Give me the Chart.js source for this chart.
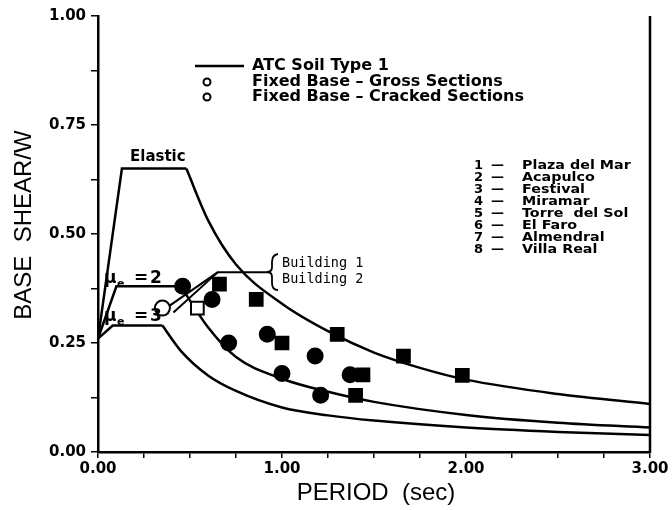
<!DOCTYPE html>
<html>
<head>
<meta charset="utf-8">
<script src="https://cdn.jsdelivr.net/npm/chart.js@4.4.0/dist/chart.umd.min.js"></script>
<style>
    html, body { margin: 0; padding: 0; background: #fff; }
</style>
</head>
<body>
<canvas id="spectrumChart" width="672" height="510"></canvas>
<script>
// ATC soil type 1 design spectra (period in sec, base shear / W)
// index 2 of each spectrum is the end of the plateau
const elasticPeriod = [0, 0.13, 0.48, 0.6, 0.75, 1.0, 1.25, 1.5, 1.75, 2.0, 2.5, 3.0];
const elasticShear = [0.26, 0.65, 0.65, 0.53, 0.43, 0.34, 0.277, 0.228, 0.193, 0.166, 0.133, 0.11];

const mu2Period = [0, 0.10, 0.45, 0.6, 0.75, 1.0, 1.25, 1.5, 2.0, 2.5, 3.0];
const mu2Shear = [0.26, 0.38, 0.38, 0.285, 0.218, 0.168, 0.138, 0.115, 0.085, 0.067, 0.056];

const mu3Period = [0, 0.08, 0.35, 0.45, 0.6, 0.75, 1.0, 1.25, 1.5, 2.0, 2.5, 3.0];
const mu3Shear = [0.26, 0.29, 0.29, 0.232, 0.175, 0.14, 0.102, 0.084, 0.072, 0.056, 0.046, 0.039];

// building spectra leaders
const building1Period = [0.37, 0.65, 0.93];
const building1Shear = [0.33, 0.412, 0.412];
const building2Period = [0.41, 0.65];
const building2Shear = [0.32, 0.412];

// fixed base, gross sections (circles)
const grossPeriod = [0.46, 0.62, 0.71, 0.92, 1.18, 1.00, 1.21, 1.37];
const grossShear = [0.38, 0.35, 0.25, 0.27, 0.22, 0.18, 0.13, 0.177];
const grossOpenPeriod = [0.35];
const grossOpenShear = [0.33];

// fixed base, cracked sections (squares)
const crackedPeriod = [0.66, 0.86, 1.00, 1.30, 1.66, 1.40, 1.98, 1.44];
const crackedShear = [0.385, 0.35, 0.25, 0.27, 0.22, 0.13, 0.176, 0.177];
const crackedOpenPeriod = [0.54];
const crackedOpenShear = [0.33];

const buildingNames = ['Plaza del Mar', 'Acapulco', 'Festival', 'Miramar', 'Torre  del Sol', 'El Faro', 'Almendral', 'Villa Real'];

function toPoints(xs, ys) {
    return xs.map((x, i) => ({ x: x, y: ys[i] }));
}

function lineSet(points, width, smooth) {
    return {
        data: points,
        borderColor: '#000',
        borderWidth: width,
        pointRadius: 0,
        fill: false,
        tension: 0,
        cubicInterpolationMode: smooth ? 'monotone' : 'default'
    };
}

// straight rise + plateau, then smooth decay
function spectrum(xs, ys, corner) {
    const pts = toPoints(xs, ys);
    return [
        lineSet(pts.slice(0, corner + 1), 2.5, false),
        lineSet(pts.slice(corner), 2.5, true)
    ];
}

function markers(xs, ys, style, radius, fillColor) {
    return {
        data: toPoints(xs, ys),
        showLine: false,
        pointStyle: style,
        pointRadius: radius,
        pointBackgroundColor: fillColor,
        pointBorderColor: '#000',
        pointBorderWidth: 2
    };
}

function isQuarter(v) {
    return Math.abs(v * 4 - Math.round(v * 4)) < 1e-6;
}

// text, legend and right frame line
const figureText = {
    id: 'figureText',
    afterDraw(chart) {
        const ctx = chart.ctx;
        const area = chart.chartArea;
        ctx.save();
        ctx.fillStyle = '#000';
        ctx.strokeStyle = '#000';

        ctx.lineWidth = 2.5;
        ctx.beginPath();
        ctx.moveTo(area.right, area.top);
        ctx.lineTo(area.right, area.bottom + 1);
        ctx.stroke();

        // legend
        ctx.textBaseline = 'middle';
        ctx.textAlign = 'left';
        ctx.font = 'bold 16px "DejaVu Sans"';
        ctx.beginPath();
        ctx.moveTo(195, 66);
        ctx.lineTo(244, 66);
        ctx.stroke();
        ctx.fillText('ATC Soil Type 1', 252, 66);
        ctx.lineWidth = 2;
        [82, 97].forEach(y => {
            ctx.beginPath();
            ctx.arc(207, y, 3.5, 0, Math.PI * 2);
            ctx.stroke();
        });
        ctx.fillText('Fixed Base \u2013 Gross Sections', 252, 82);
        ctx.fillText('Fixed Base \u2013 Cracked Sections', 252, 97);

        // building list
        ctx.font = 'bold 13px "DejaVu Sans"';
        buildingNames.forEach((name, i) => {
            const y = 166 + i * 12;
            ctx.fillText(String(i + 1), 474, y);
            ctx.fillText('\u2014', 491, y);
            ctx.save();
            ctx.translate(522, y);
            ctx.scale(1.1, 1);
            ctx.fillText(name, 0, 0);
            ctx.restore();
        });

        // curve labels
        ctx.textBaseline = 'alphabetic';
        ctx.font = 'bold 15px "DejaVu Sans"';
        ctx.fillText('Elastic', 130, 161);

        [['2', 283], ['3', 321]].forEach(([n, base]) => {
            ctx.font = 'bold 17px "DejaVu Sans"';
            ctx.fillText('\u03bc', 104, base);
            ctx.font = 'bold 11px "DejaVu Sans"';
            ctx.fillText('e', 117, base + 4);
            ctx.font = 'bold 17px "DejaVu Sans"';
            ctx.fillText('=', 134, base);
            ctx.fillText(n, 150, base);
        });

        // building brace and labels
        ctx.lineWidth = 1.8;
        ctx.beginPath();
        ctx.moveTo(278, 254);
        ctx.quadraticCurveTo(272, 255, 272, 262);
        ctx.lineTo(272, 267);
        ctx.quadraticCurveTo(272, 272, 267, 272);
        ctx.quadraticCurveTo(272, 272, 272, 277);
        ctx.lineTo(272, 283);
        ctx.quadraticCurveTo(272, 290, 278, 290);
        ctx.stroke();
        ctx.font = '13.5px "DejaVu Sans Mono"';
        ctx.textBaseline = 'middle';
        ctx.fillText('Building 1', 282, 263);
        ctx.fillText('Building 2', 282, 279);

        // axis titles
        ctx.font = '24px "Liberation Sans"';
        ctx.textAlign = 'center';
        ctx.fillText('PERIOD  (sec)', 376, 493);
        ctx.translate(24, 225);
        ctx.rotate(-Math.PI / 2);
        ctx.fillText('BASE  SHEAR/W', 0, 0);
        ctx.restore();
    }
};

function initSpectrumChart() {
    const ctx = document.getElementById('spectrumChart');
    if (!ctx) return;
    new Chart(ctx.getContext('2d'), {
        type: 'line',
        data: {
            datasets: [
                markers(grossPeriod, grossShear, 'circle', 7.5, '#000'),
                markers(crackedPeriod, crackedShear, 'rect', 9, '#000'),
                markers(grossOpenPeriod, grossOpenShear, 'circle', 7.5, '#fff'),
                markers(crackedOpenPeriod, crackedOpenShear, 'rect', 9, '#fff'),
                ...spectrum(elasticPeriod, elasticShear, 2),
                ...spectrum(mu2Period, mu2Shear, 2),
                ...spectrum(mu3Period, mu3Shear, 2),
                lineSet(toPoints(building1Period, building1Shear), 2, false),
                lineSet(toPoints(building2Period, building2Shear), 2, false)
            ]
        },
        options: {
            responsive: false,
            animation: false,
            layout: {
                padding: { top: 16, right: 22, bottom: 0, left: 0 }
            },
            plugins: {
                legend: { display: false },
                tooltip: { enabled: false }
            },
            scales: {
                x: {
                    type: 'linear',
                    min: 0,
                    max: 3,
                    afterFit: scale => { scale.height = 58; },
                    grid: {
                        drawOnChartArea: false,
                        tickLength: 6,
                        color: '#000',
                        lineWidth: 1.5
                    },
                    border: { color: '#000', width: 2.5 },
                    ticks: {
                        stepSize: 0.25,
                        autoSkip: false,
                        maxRotation: 0,
                        padding: 2,
                        color: '#000',
                        font: { family: 'DejaVu Sans', size: 15, weight: 'bold' },
                        callback: v => Number.isInteger(v) ? v.toFixed(2) : ''
                    }
                },
                y: {
                    min: 0,
                    max: 1,
                    afterFit: scale => { scale.width = 98; },
                    grid: {
                        drawOnChartArea: false,
                        tickLength: 7,
                        color: '#000',
                        lineWidth: 1.5
                    },
                    border: { color: '#000', width: 2.5 },
                    ticks: {
                        stepSize: 0.125,
                        autoSkip: false,
                        padding: 5,
                        color: '#000',
                        font: { family: 'DejaVu Sans', size: 15, weight: 'bold' },
                        callback: v => isQuarter(v) ? v.toFixed(2) : ''
                    }
                }
            }
        },
        plugins: [figureText]
    });
}

document.addEventListener('DOMContentLoaded', initSpectrumChart);
</script>
</body>
</html>
